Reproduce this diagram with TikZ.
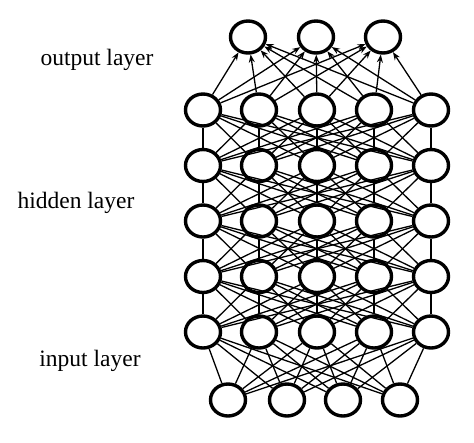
\documentclass[tikz,border=0pt]{standalone}
\usepackage{fontspec}
\setmainfont{Liberation Serif}
\usetikzlibrary{shapes.geometric,arrows.meta}
\begin{document}
\begin{tikzpicture}[x=1pt, y=-1pt,
    neuron/.style={ellipse, draw, line width=3.4pt, minimum width=35pt, minimum height=32pt, inner sep=0pt},
    link/.style={line width=1.3pt},
    layername/.style={font=\fontsize{23.5}{27}\selectfont}]
  \useasboundingbox (0,0) rectangle (474,442);
  % layers
  \foreach \x [count=\i] in {248,316,383}
    \node[neuron] (o\i) at (\x,37) {};
  \foreach \y [count=\r] in {110,165.5,221,276.5,332}
    \foreach \x [count=\i] in {203,259,317,374,431}
      \node[neuron] (h\r\i) at (\x,\y) {};
  \foreach \x [count=\i] in {228,287,343,400}
    \node[neuron] (i\i) at (\x,400) {};
  \node[layername] (outname) at (97,60) {output layer};
  \node[layername] (hidname) at (76,203) {hidden layer};
  \node[layername] (inname) at (90,361) {input layer};
  % connections
  \foreach \source in {1,...,4}
    \foreach \dest in {1,...,5}
      \path[link] (i\source) edge (h5\dest);
  \foreach \lower/\upper in {5/4,4/3,3/2,2/1}
    \foreach \source in {1,...,5}
      \foreach \dest in {1,...,5}
        \path[link] (h\lower\source) edge (h\upper\dest);
  \foreach \source in {1,...,5}
    \foreach \dest in {1,2,3}
      \path[link] (h1\source) edge[-{Stealth[length=8pt,width=6pt]}] (o\dest);
\end{tikzpicture}
\end{document}
